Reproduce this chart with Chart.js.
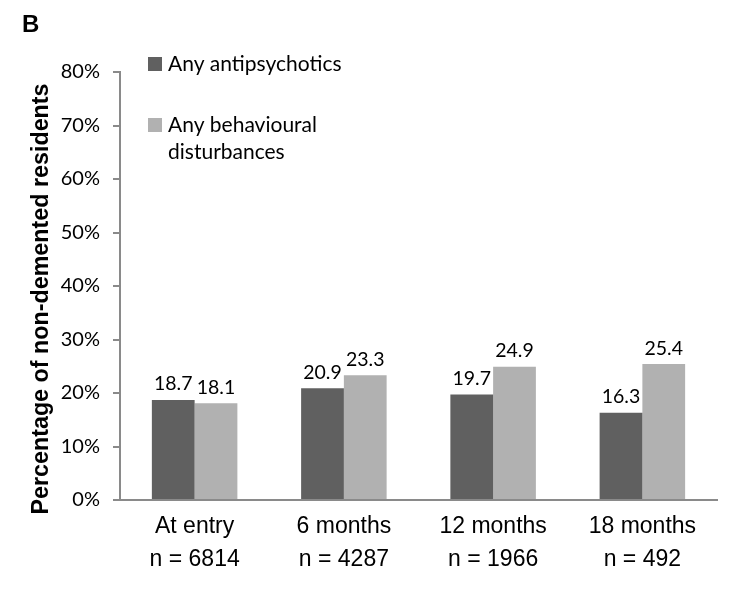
<!DOCTYPE html>
<html>
<head>
<meta charset="utf-8">
<title>Panel B</title>
<script src="https://cdn.jsdelivr.net/npm/chart.js@4.4.1/dist/chart.umd.min.js"></script>
<style>
  html, body { margin: 0; padding: 0; background: #fff; }
  #wrap { position: relative; width: 740px; height: 593px; }
</style>
</head>
<body>
<div id="wrap"><canvas id="chart"></canvas></div>
<script>
'use strict';

/*** DATA ***/

var categories = [['At entry', 'n = 6814'], ['6 months', 'n = 4287'], ['12 months', 'n = 1966'], ['18 months', 'n = 492']];
var seriesNames = ['Any antipsychotics', 'Any behavioural disturbances'];
var antipsychotics = [18.7, 20.9, 19.7, 16.3];
var behavioural = [18.1, 23.3, 24.9, 25.4];
var yTicks = [0, 10, 20, 30, 40, 50, 60, 70, 80];
var yTitle = 'Percentage of non-demented residents';

var calibriLike = 'Lato, "Open Sans", sans-serif';
var arialLike = '"Liberation Sans", Arial, sans-serif';

/*** PLUGINS ***/

// value above every bar
var valueLabels = {
  id: 'valueLabels',
  afterDatasetsDraw: function(chart) {
    var ctx = chart.ctx;
    ctx.save();
    ctx.font = '19.5px ' + calibriLike;
    ctx.fillStyle = '#000';
    ctx.textAlign = 'center';
    ctx.textBaseline = 'bottom';
    chart.data.datasets.forEach(function(ds, i) {
      chart.getDatasetMeta(i).data.forEach(function(bar, j) {
        ctx.fillText(ds.data[j].toFixed(1), bar.x, bar.y - 6);
      });
    });
    ctx.restore();
  }
};

// legend inside the plot (wrapped text), y title and panel letter
var boxLegend = {
  id: 'boxLegend',
  afterDraw: function(chart) {
    var ctx = chart.ctx;
    var x = chart.chartArea.left + 28;
    var y = 64;
    ctx.save();
    ctx.font = '21px ' + calibriLike;
    ctx.textBaseline = 'middle';
    ctx.textAlign = 'left';
    chart.data.datasets.forEach(function(ds) {
      ctx.fillStyle = ds.backgroundColor;
      ctx.fillRect(x, y - 7, 14, 14);
      ctx.fillStyle = '#000';
      var words = ds.label.split(' ');
      var line = '';
      var lines = [];
      for (var k = 0; k < words.length; k++) {
        var test = line ? line + ' ' + words[k] : words[k];
        if (ctx.measureText(test).width > 185 && line) {
          lines.push(line);
          line = words[k];
        } else {
          line = test;
        }
      }
      lines.push(line);
      for (var m = 0; m < lines.length; m++) {
        ctx.fillText(lines[m], x + 20, y + m * 27);
      }
      y += 61;
    });

    // rotated axis title, sitting a bit lower than the plot centre like the original
    ctx.save();
    ctx.translate(48, 299);
    ctx.rotate(-Math.PI / 2);
    ctx.font = 'bold 23.3px ' + arialLike;
    ctx.textAlign = 'center';
    ctx.textBaseline = 'alphabetic';
    ctx.fillText(yTitle, 0, 0);
    ctx.restore();

    // panel letter
    ctx.font = 'bold 24px ' + arialLike;
    ctx.textBaseline = 'alphabetic';
    ctx.textAlign = 'left';
    ctx.fillText('B', 22, 32);
    ctx.restore();
  }
};

/*** CHART ***/

var ctx = document.getElementById('chart').getContext('2d');
var chart = new Chart(ctx, {
  type: 'bar',
  data: {
    labels: categories,
    datasets: [{
      label: seriesNames[0],
      data: antipsychotics,
      backgroundColor: '#606060'
    }, {
      label: seriesNames[1],
      data: behavioural,
      backgroundColor: '#b1b1b1'
    }]
  },
  options: {
    responsive: true,
    maintainAspectRatio: false,
    animation: false,
    categoryPercentage: 0.573,
    barPercentage: 1,
    layout: { padding: { top: 72, right: 23, left: 0, bottom: 0 } },
    plugins: {
      legend: { display: false },
      tooltip: { enabled: false }
    },
    scales: {
      x: {
        grid: { display: false },
        border: { color: '#8a8a8a', width: 2 },
        ticks: {
          color: '#000',
          padding: 3,
          font: { family: arialLike, size: 23, lineHeight: 1.4 }
        },
        afterFit: function(scale) { scale.height = 93; }
      },
      y: {
        min: 0,
        max: 80,
        afterBuildTicks: function(scale) {
          scale.ticks = yTicks.map(function(v) { return { value: v }; });
        },
        grid: { drawOnChartArea: false, tickLength: 7, color: '#8a8a8a', lineWidth: 2 },
        border: { color: '#8a8a8a', width: 2 },
        ticks: {
          color: '#000',
          padding: 13,
          font: { family: calibriLike, size: 20 },
          callback: function(v) { return v + '%'; }
        },
        afterFit: function(scale) { scale.width = 120; }
      }
    }
  },
  plugins: [valueLabels, boxLegend]
});
</script>
</body>
</html>
